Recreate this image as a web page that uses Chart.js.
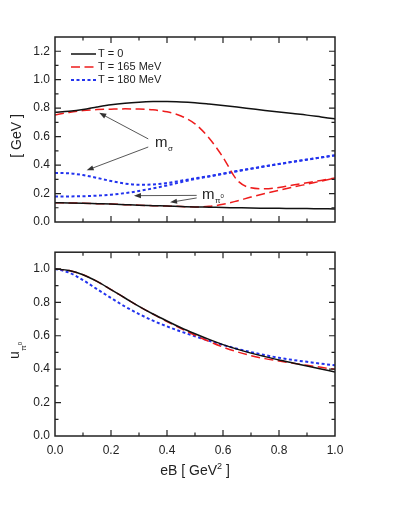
<!DOCTYPE html>
<html>
<head>
<meta charset="utf-8">
<script src="https://cdn.jsdelivr.net/npm/chart.js@4.4.0/dist/chart.umd.min.js"></script>
<style>
  html, body { margin: 0; padding: 0; background: #fff; }
  #wrap { position: relative; width: 399px; height: 516px; }
  #top { position: absolute; left: 0; top: 0; width: 399px; height: 240px; }
  #bottom { position: absolute; left: 0; top: 240px; width: 399px; height: 276px; }
</style>
</head>
<body>
<div id="wrap">
  <canvas id="top" width="399" height="240"></canvas>
  <canvas id="bottom" width="399" height="276"></canvas>
</div>
<script>
(function () {
    'use strict';

    // eB [GeV^2] sample points
    var eB = [0, 0.05, 0.1, 0.15, 0.2, 0.25, 0.3, 0.35, 0.4, 0.45, 0.5,
              0.55, 0.6, 0.65, 0.7, 0.75, 0.8, 0.85, 0.9, 0.95, 1.0];

    // masses [GeV], top panel
    var mSigmaT0   = [0.771, 0.778, 0.790, 0.808, 0.824, 0.835, 0.842, 0.846, 0.847, 0.844, 0.838,
                      0.829, 0.819, 0.808, 0.796, 0.784, 0.773, 0.762, 0.751, 0.738, 0.725];
    var mPiT0      = [0.135, 0.134, 0.132, 0.129, 0.126, 0.122, 0.118, 0.115, 0.112, 0.109, 0.106,
                      0.104, 0.102, 0.100, 0.098, 0.097, 0.096, 0.095, 0.094, 0.093, 0.092];
    var mSigmaT165 = [0.752, 0.770, 0.783, 0.790, 0.793, 0.795, 0.794, 0.788, 0.774, 0.745, 0.690,
                      0.590, 0.455, 0.295, 0.240, 0.233, 0.243, 0.260, 0.276, 0.292, 0.310];
    var mPiT165    = [0.135, 0.134, 0.132, 0.129, 0.126, 0.122, 0.118, 0.115, 0.112, 0.109, 0.106,
                      0.110, 0.124, 0.148, 0.175, 0.200, 0.223, 0.245, 0.266, 0.287, 0.308];
    var mSigmaT180 = [0.345, 0.342, 0.330, 0.310, 0.288, 0.270, 0.262, 0.264, 0.274, 0.290, 0.307,
                      0.322, 0.340, 0.358, 0.375, 0.392, 0.408, 0.424, 0.439, 0.454, 0.469];
    var mPiT180    = [0.180, 0.180, 0.181, 0.185, 0.192, 0.203, 0.218, 0.236, 0.257, 0.280, 0.302,
                      0.320, 0.338, 0.357, 0.374, 0.391, 0.407, 0.423, 0.438, 0.453, 0.468];

    // u_pi0, bottom panel
    var uT0   = [1.000, 0.990, 0.965, 0.925, 0.876, 0.826, 0.776, 0.730, 0.688, 0.648, 0.612,
                 0.578, 0.547, 0.520, 0.496, 0.475, 0.455, 0.437, 0.419, 0.401, 0.383];
    var uT165 = [1.000, 0.990, 0.965, 0.925, 0.876, 0.826, 0.776, 0.730, 0.685, 0.643, 0.603,
                 0.566, 0.532, 0.504, 0.481, 0.463, 0.449, 0.436, 0.423, 0.411, 0.399];
    var uT180 = [1.000, 0.978, 0.933, 0.879, 0.826, 0.775, 0.730, 0.690, 0.656, 0.625, 0.597,
                 0.570, 0.545, 0.522, 0.502, 0.484, 0.468, 0.455, 0.444, 0.433, 0.423];

    var seriesLabels = ['T = 0', 'T = 165 MeV', 'T = 180 MeV'];
    var xTicks = [0, 0.2, 0.4, 0.6, 0.8, 1.0];
    var yTicksTop = [0, 0.2, 0.4, 0.6, 0.8, 1.0, 1.2];
    var yTicksBottom = [0, 0.2, 0.4, 0.6, 0.8, 1.0];

    // annotation arrows, data units: [fromX, fromY, toX, toY]
    var sigmaArrows = [[0.333, 0.584, 0.158, 0.767], [0.333, 0.527, 0.113, 0.363]];
    var piArrows = [[0.506, 0.187, 0.282, 0.185], [0.506, 0.169, 0.411, 0.138]];

    var FONT = '"Liberation Sans", Arial, sans-serif';
    var INK = '#222';

    var styles = [
        { borderColor: '#111111', borderWidth: 1.5, borderDash: [] },
        { borderColor: '#ee1c1c', borderWidth: 1.5, borderDash: [9, 4.5] },
        { borderColor: '#2233ee', borderWidth: 2, borderDash: [3, 2.5] }
    ];

    function pts(arr) {
        return eB.map(function (x, i) { return { x: x, y: arr[i] }; });
    }

    function makeDataset(arr, t, label) {
        var s = styles[t];
        return {
            label: label,
            data: pts(arr),
            borderColor: s.borderColor,
            borderWidth: s.borderWidth,
            borderDash: s.borderDash,
            pointRadius: 0,
            fill: false,
            cubicInterpolationMode: 'monotone'
        };
    }

    Chart.defaults.font.family = FONT;
    Chart.defaults.color = INK;

    // frame with inward ticks on all four sides
    var framePlugin = {
        id: 'frame',
        afterDatasetsDraw: function (chart) {
            var ctx = chart.ctx, a = chart.chartArea;
            var xs = chart.scales.x, ys = chart.scales.y;
            ctx.save();
            ctx.strokeStyle = INK;
            ctx.lineWidth = 1.5;
            ctx.strokeRect(a.left, a.top, a.right - a.left, a.bottom - a.top);
            ctx.lineWidth = 1.2;
            ctx.beginPath();
            var i, px, len;
            for (i = 1; i < 10; i++) {
                px = xs.getPixelForValue(i * 0.1);
                len = i % 2 === 0 ? 6 : 3.5;
                ctx.moveTo(px, a.bottom); ctx.lineTo(px, a.bottom - len);
                ctx.moveTo(px, a.top); ctx.lineTo(px, a.top + len);
            }
            var n = Math.round(ys.max / 0.1);
            for (i = 1; i < n; i++) {
                px = ys.getPixelForValue(i * 0.1);
                len = i % 2 === 0 ? 6 : 3.5;
                ctx.moveTo(a.left, px); ctx.lineTo(a.left + len, px);
                ctx.moveTo(a.right, px); ctx.lineTo(a.right - len, px);
            }
            ctx.stroke();
            ctx.restore();
        }
    };

    function arrow(ctx, x1, y1, x2, y2) {
        var ang = Math.atan2(y2 - y1, x2 - x1);
        var hl = 7, hw = 2.6;
        ctx.beginPath();
        ctx.moveTo(x1, y1);
        ctx.lineTo(x2 - Math.cos(ang) * hl * 0.8, y2 - Math.sin(ang) * hl * 0.8);
        ctx.stroke();
        ctx.beginPath();
        ctx.moveTo(x2, y2);
        ctx.lineTo(x2 - Math.cos(ang) * hl - Math.sin(ang) * hw, y2 - Math.sin(ang) * hl + Math.cos(ang) * hw);
        ctx.lineTo(x2 - Math.cos(ang) * hl + Math.sin(ang) * hw, y2 - Math.sin(ang) * hl - Math.cos(ang) * hw);
        ctx.closePath();
        ctx.fill();
    }

    var topExtras = {
        id: 'topExtras',
        afterDraw: function (chart) {
            var ctx = chart.ctx, a = chart.chartArea;
            var xs = chart.scales.x, ys = chart.scales.y;

            // legend inside plot
            ctx.save();
            seriesLabels.forEach(function (lab, i) {
                var ds = chart.data.datasets[i];
                var y = a.top + 17 + i * 13;
                ctx.strokeStyle = ds.borderColor;
                ctx.lineWidth = ds.borderWidth;
                ctx.setLineDash(ds.borderDash);
                ctx.beginPath();
                ctx.moveTo(a.left + 16, y);
                ctx.lineTo(a.left + 41, y);
                ctx.stroke();
                ctx.setLineDash([]);
                ctx.fillStyle = INK;
                ctx.font = '11px ' + FONT;
                ctx.textBaseline = 'middle';
                ctx.fillText(lab, a.left + 43, y);
            });
            ctx.restore();

            // arrows
            ctx.save();
            ctx.strokeStyle = '#444';
            ctx.fillStyle = '#333';
            ctx.lineWidth = 0.9;
            sigmaArrows.concat(piArrows).forEach(function (r) {
                arrow(ctx, xs.getPixelForValue(r[0]), ys.getPixelForValue(r[1]),
                      xs.getPixelForValue(r[2]), ys.getPixelForValue(r[3]));
            });
            ctx.restore();

            // m_sigma and m_pi0 labels
            ctx.save();
            ctx.fillStyle = INK;
            ctx.textBaseline = 'alphabetic';
            var x = xs.getPixelForValue(0.357), y = ys.getPixelForValue(0.53);
            ctx.font = '15px ' + FONT;
            ctx.fillText('m', x, y);
            var w = ctx.measureText('m').width;
            ctx.font = '8px ' + FONT;
            ctx.fillText('σ', x + w + 0.5, y + 4);

            x = xs.getPixelForValue(0.525); y = ys.getPixelForValue(0.164);
            ctx.font = '15px ' + FONT;
            ctx.fillText('m', x, y);
            w = ctx.measureText('m').width;
            ctx.font = '8px ' + FONT;
            ctx.fillText('π', x + w + 0.5, y + 4);
            var pw = ctx.measureText('π').width;
            ctx.font = '6px ' + FONT;
            ctx.fillText('0', x + w + 0.5 + pw, y - 0.5);
            ctx.restore();

            // y title
            ctx.save();
            ctx.fillStyle = INK;
            ctx.font = '14px ' + FONT;
            ctx.translate(17, 136);
            ctx.rotate(-Math.PI / 2);
            ctx.textAlign = 'center';
            ctx.textBaseline = 'middle';
            ctx.fillText('[ GeV ]', 0, 0);
            ctx.restore();
        }
    };

    var bottomExtras = {
        id: 'bottomExtras',
        afterDraw: function (chart) {
            var ctx = chart.ctx, a = chart.chartArea;

            // x title with superscript
            ctx.save();
            ctx.fillStyle = INK;
            ctx.textBaseline = 'alphabetic';
            ctx.font = '14px ' + FONT;
            var p1 = 'eB [ GeV', p3 = ' ]';
            var w1 = ctx.measureText(p1).width, w3 = ctx.measureText(p3).width;
            ctx.font = '9px ' + FONT;
            var w2 = ctx.measureText('2').width;
            var x0 = (a.left + a.right) / 2 - (w1 + w2 + w3) / 2;
            var yb = a.bottom + 39;
            ctx.font = '14px ' + FONT;
            ctx.fillText(p1, x0, yb);
            ctx.font = '9px ' + FONT;
            ctx.fillText('2', x0 + w1, yb - 6);
            ctx.font = '14px ' + FONT;
            ctx.fillText(p3, x0 + w1 + w2, yb);
            ctx.restore();

            // y title u_pi0
            ctx.save();
            ctx.fillStyle = INK;
            ctx.translate(18.5, 119);
            ctx.rotate(-Math.PI / 2);
            ctx.textBaseline = 'alphabetic';
            ctx.font = '14px ' + FONT;
            ctx.fillText('u', 0, 0);
            var uw = ctx.measureText('u').width;
            ctx.font = '8px ' + FONT;
            ctx.fillText('π', uw + 0.5, 7);
            var pw = ctx.measureText('π').width;
            ctx.font = '6px ' + FONT;
            ctx.fillText('0', uw + 0.5 + pw, 3);
            ctx.restore();
        }
    };

    function tickList(list) {
        return function (scale) {
            scale.ticks = list.map(function (v) { return { value: v }; });
        };
    }

    function fmt(v) { return Number(v).toFixed(1); }

    // top panel: masses
    new Chart(document.getElementById('top').getContext('2d'), {
        type: 'line',
        data: {
            datasets: [
                makeDataset(mSigmaT0, 0, seriesLabels[0]),
                makeDataset(mSigmaT165, 1, seriesLabels[1]),
                makeDataset(mSigmaT180, 2, seriesLabels[2]),
                makeDataset(mPiT0, 0, ''),
                makeDataset(mPiT165, 1, ''),
                makeDataset(mPiT180, 2, '')
            ]
        },
        options: {
            responsive: false,
            animation: false,
            events: [],
            layout: { padding: { left: 0, right: 64, top: 37, bottom: 0 } },
            plugins: { legend: { display: false }, tooltip: { enabled: false } },
            scales: {
                x: {
                    type: 'linear', min: 0, max: 1,
                    grid: { display: false, drawTicks: false },
                    border: { display: false },
                    ticks: { display: false },
                    afterFit: function (s) { s.height = 18; }
                },
                y: {
                    type: 'linear', min: 0, max: 1.3,
                    afterBuildTicks: tickList(yTicksTop),
                    grid: { display: false, drawTicks: false },
                    border: { display: false },
                    ticks: { padding: 5, color: INK, font: { size: 12 }, callback: fmt },
                    afterFit: function (s) { s.width = 55; }
                }
            }
        },
        plugins: [framePlugin, topExtras]
    });

    // bottom panel: u_pi0
    new Chart(document.getElementById('bottom').getContext('2d'), {
        type: 'line',
        data: {
            datasets: [
                makeDataset(uT0, 0, seriesLabels[0]),
                makeDataset(uT165, 1, seriesLabels[1]),
                makeDataset(uT180, 2, seriesLabels[2])
            ]
        },
        options: {
            responsive: false,
            animation: false,
            events: [],
            layout: { padding: { left: 0, right: 64, top: 10, bottom: 0 } },
            plugins: { legend: { display: false }, tooltip: { enabled: false } },
            scales: {
                x: {
                    type: 'linear', min: 0, max: 1,
                    afterBuildTicks: tickList(xTicks),
                    grid: { display: false, drawTicks: false },
                    border: { display: false },
                    ticks: { padding: 7, color: INK, font: { size: 12 }, maxRotation: 0, callback: fmt },
                    afterFit: function (s) { s.height = 80; }
                },
                y: {
                    type: 'linear', min: 0, max: 1.1,
                    afterBuildTicks: tickList(yTicksBottom),
                    grid: { display: false, drawTicks: false },
                    border: { display: false },
                    ticks: { padding: 5, color: INK, font: { size: 12 }, callback: fmt },
                    afterFit: function (s) { s.width = 55; }
                }
            }
        },
        plugins: [framePlugin, bottomExtras]
    });
})();
</script>
</body>
</html>
